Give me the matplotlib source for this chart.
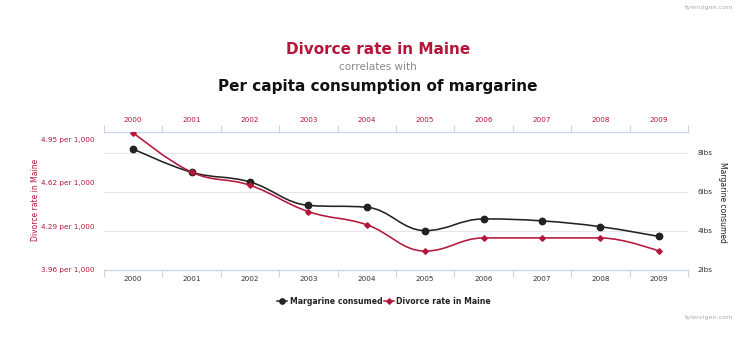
import numpy as np
import matplotlib
matplotlib.use('Agg')
import matplotlib.pyplot as plt
from matplotlib.path import Path
from matplotlib.patches import PathPatch
from matplotlib.lines import Line2D

years = [2000, 2001, 2002, 2003, 2004, 2005, 2006, 2007, 2008, 2009]
divorce_rate = [5.0, 4.7, 4.6, 4.4, 4.3, 4.1, 4.2, 4.2, 4.2, 4.1]
margarine_lbs = [8.2, 7.0, 6.5, 5.3, 5.2, 4.0, 4.6, 4.5, 4.2, 3.7]
left_ticks = [3.96, 4.29, 4.62, 4.95]
left_tick_labels = ['3.96 per 1,000', '4.29 per 1,000', '4.62 per 1,000', '4.95 per 1,000']
right_ticks = [2, 4, 6, 8]
right_tick_labels = ['2lbs', '4lbs', '6lbs', '8lbs']

RED = '#b5173a'
DARK = '#222222'
AXC = '#ccd6eb'
GRID = '#e3e6ea'


def spline_path(x, y, smoothing=1.5):
    n = len(x)
    lc, rc = [None] * n, [None] * n
    for i in range(n):
        px, py = x[i], y[i]
        if 0 < i < n - 1:
            lx, ly = x[i - 1], y[i - 1]
            nx, ny = x[i + 1], y[i + 1]
            d = smoothing + 1
            lcx = (smoothing * px + lx) / d
            lcy = (smoothing * py + ly) / d
            rcx = (smoothing * px + nx) / d
            rcy = (smoothing * py + ny) / d
            corr = (rcy - lcy) * (rcx - px) / (rcx - lcx) + py - rcy
            lcy += corr
            rcy += corr
            if lcy > ly and lcy > py:
                lcy = max(ly, py); rcy = 2 * py - lcy
            elif lcy < ly and lcy < py:
                lcy = min(ly, py); rcy = 2 * py - lcy
            if rcy > ny and rcy > py:
                rcy = max(ny, py); lcy = 2 * py - rcy
            elif rcy < ny and rcy < py:
                rcy = min(ny, py); lcy = 2 * py - rcy
            lc[i] = (lcx, lcy)
            rc[i] = (rcx, rcy)
        else:
            lc[i] = (px, py)
            rc[i] = (px, py)
    verts = [(x[0], y[0])]
    codes = [Path.MOVETO]
    for i in range(1, n):
        verts += [rc[i - 1], lc[i], (x[i], y[i])]
        codes += [Path.CURVE4] * 3
    return Path(verts, codes)


W, H = 750, 339
fig = plt.figure(figsize=(W / 100, H / 100), dpi=100)
fig.patch.set_facecolor('white')

x0, x1, ybot, ytop = 104, 688, 269.5, 132
ax = fig.add_axes([x0 / W, (H - ybot) / H, (x1 - x0) / W, (ybot - ytop) / H])
ax2 = ax.twinx()
ax.set_zorder(ax2.get_zorder() + 1)
ax.patch.set_visible(False)

xs = np.arange(len(years))
ax.set_xlim(-0.5, len(years) - 0.5)
ax.set_ylim(3.96, 5.005)
ax2.set_ylim(2, 9.07)

# margarine (right axis)
ax2.add_patch(PathPatch(spline_path(xs, margarine_lbs), fill=False, ec=DARK, lw=1.15, zorder=3))
ax2.plot(xs, margarine_lbs, ls='none', marker='o', ms=4.6, color=DARK, zorder=4)
# divorce (left axis)
ax.add_patch(PathPatch(spline_path(xs, divorce_rate), fill=False, ec=RED, lw=1.15, zorder=3))
ax.plot(xs, divorce_rate, ls='none', marker='D', ms=2.8, color=RED, zorder=4)

# grid from right axis
ax2.set_yticks(right_ticks, labels=right_tick_labels)
ax2.yaxis.grid(True, color=GRID, lw=0.8)
ax2.set_axisbelow(True)
ax2.tick_params(axis='y', length=0, pad=7, labelsize=5.2, labelcolor='#333333')
for s in ax2.spines.values():
    s.set_visible(False)

ax.set_yticks(left_ticks, labels=left_tick_labels)
ax.tick_params(axis='y', length=0, pad=7, labelsize=5.2, labelcolor=RED)

ax.set_xticks(xs, labels=[str(y) for y in years])
ax.set_xticks(np.arange(-0.5, len(years), 1.0), minor=True)
ax.tick_params(axis='x', which='major', length=0, pad=5, labelsize=5.2,
               labelcolor='#333333', bottom=True, top=False, labelbottom=True, labeltop=False)
ax.tick_params(axis='x', which='minor', length=5, width=0.8, color=AXC,
               direction='out', bottom=True, top=True)
for name in ['left', 'right']:
    ax.spines[name].set_visible(False)
for name in ['top', 'bottom']:
    ax.spines[name].set_color(AXC)
    ax.spines[name].set_linewidth(0.9)

secax = ax.secondary_xaxis('top')
secax.set_xticks(xs, labels=[str(y) for y in years])
secax.tick_params(axis='x', length=0, pad=6.5, labelsize=5.2, labelcolor=RED)
secax.spines['top'].set_visible(False)

# axis titles
fig.text(35 / W, 1 - 200 / H, 'Divorce rate in Maine', rotation=90, color=RED,
         fontsize=5.5, ha='center', va='center')
fig.text(723 / W, 1 - 202 / H, 'Margarine consumed', rotation=270, color=DARK,
         fontsize=5.5, ha='center', va='center')

# titles
fig.text(378 / W, 1 - 50 / H, 'Divorce rate in Maine', color=RED, fontsize=11,
         fontweight='bold', ha='center', va='center')
fig.text(378 / W, 1 - 67 / H, 'correlates with', color='#888888', fontsize=7.5,
         ha='center', va='center')
fig.text(378 / W, 1 - 86 / H, 'Per capita consumption of margarine', color='#111111',
         fontsize=11, fontweight='bold', ha='center', va='center')

# legend
handles = [Line2D([], [], color=DARK, lw=1.1, marker='o', ms=3.8),
           Line2D([], [], color=RED, lw=1.1, marker='D', ms=2.8)]
fig.legend(handles, ['Margarine consumed', 'Divorce rate in Maine'],
           loc='center', bbox_to_anchor=(384 / W, 1 - 301 / H), ncol=2, frameon=False,
           prop={'size': 5.6, 'weight': 'bold'}, handlelength=1.3, handletextpad=0.3,
           columnspacing=0.2, labelcolor='#222222')

# watermark
fig.text(733 / W, 1 - 8 / H, 'tylervigen.com', color='#aaaaaa', fontsize=4.6,
         ha='right', va='center')
fig.text(733 / W, 1 - 317 / H, 'tylervigen.com', color='#aaaaaa', fontsize=4.6,
         ha='right', va='center')

fig.savefig('out.png', dpi=100, facecolor='white')
